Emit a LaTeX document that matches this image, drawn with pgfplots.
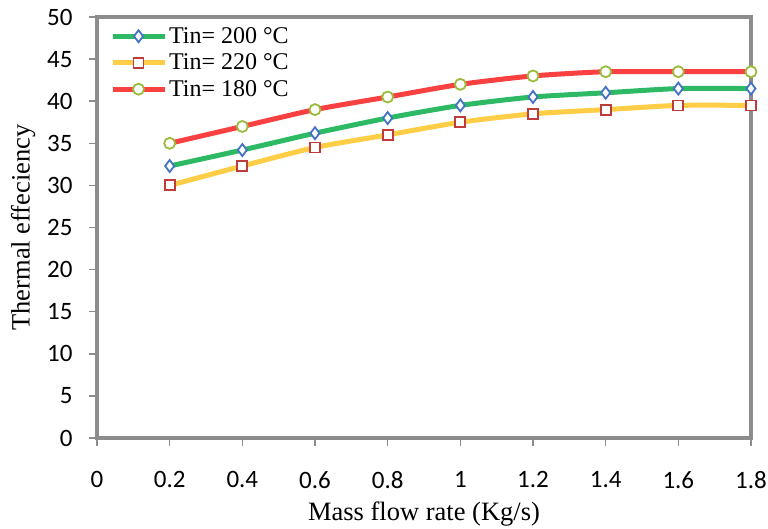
\documentclass[border=0pt]{standalone}
\usepackage{fontspec}
\setmainfont{Liberation Serif}
\newfontfamily\carlito{Carlito}
\usepackage{pgfplots}
\pgfplotsset{compat=1.18}
\definecolor{frame}{RGB}{140,140,140}
\definecolor{lgreen}{RGB}{46,186,100}
\definecolor{lyellow}{RGB}{255,205,70}
\definecolor{lred}{RGB}{250,65,65}
\definecolor{mblue}{RGB}{68,114,196}
\definecolor{mred}{RGB}{192,60,60}
\definecolor{mgreen}{RGB}{155,187,60}
\begin{document}
\begin{tikzpicture}
\begin{axis}[
  at={(0pt,0pt)}, anchor=south west,
  scale only axis, width=654pt, height=421pt,
  xmin=0, xmax=1.8, ymin=0, ymax=50,
  xtick={0,0.2,0.4,0.6,0.8,1,1.2,1.4,1.6,1.8},
  xticklabels={0,0.2,0.4,0.6,0.8,1,1.2,1.4,1.6,1.8},
  ytick={0,5,...,50},
  axis line style={frame, line width=4pt},
  tick style={frame, line width=1.5pt},
  tick align=outside, major tick length=8pt,
  xtick pos=bottom, ytick pos=left,
  /pgf/number format/assume math mode=true,
  tick label style={font=\carlito\fontsize{25}{30}\selectfont, text=black},
  xticklabel style={yshift=-22pt},
  yticklabel style={xshift=-13pt},
  xlabel={Mass flow rate (Kg/s)},
  ylabel={Thermal effeciency},
  label style={font=\fontsize{26.5}{30}\selectfont},
  xlabel style={yshift=-6pt},
  ylabel style={yshift=5pt},
  legend style={at={(0.015,0.985)}, anchor=north west, draw=none, fill=none,
    font=\fontsize{24}{27}\selectfont, row sep=5pt,
    /tikz/every even column/.append style={column sep=0pt}},
  legend cell align=left,
  legend image code/.code={
    \draw[#1, mark=none] (0pt,0pt) -- (52pt,0pt);
    \draw[#1, draw=none] plot coordinates {(26pt,0pt)};
  },
  every axis plot/.append style={line width=5pt, smooth, tension=0.4},
]
\addplot[lgreen, mark=diamond*, mark size=6pt, mark options={draw=mblue, fill=white, line width=1.8pt}]
coordinates {(0.2,32.3) (0.4,34.2) (0.6,36.2) (0.8,38) (1.0,39.5) (1.2,40.5) (1.4,41) (1.6,41.5) (1.8,41.5)};
\addlegendentry{Tin= 200 °C}
\addplot[lyellow, mark=square*, mark size=5pt, mark options={draw=mred, fill=white, line width=1.8pt}]
coordinates {(0.2,30) (0.4,32.3) (0.6,34.5) (0.8,36) (1.0,37.5) (1.2,38.5) (1.4,39) (1.6,39.5) (1.8,39.5)};
\addlegendentry{Tin= 220 °C}
\addplot[lred, mark=*, mark size=5.5pt, mark options={draw=mgreen, fill=white, line width=1.8pt}]
coordinates {(0.2,35) (0.4,37) (0.6,39) (0.8,40.5) (1.0,42) (1.2,43) (1.4,43.5) (1.6,43.5) (1.8,43.5)};
\addlegendentry{Tin= 180 °C}
\end{axis}
\pgfresetboundingbox
\path (-97pt,-91pt) rectangle (671pt,438pt);
\end{tikzpicture}
\end{document}
